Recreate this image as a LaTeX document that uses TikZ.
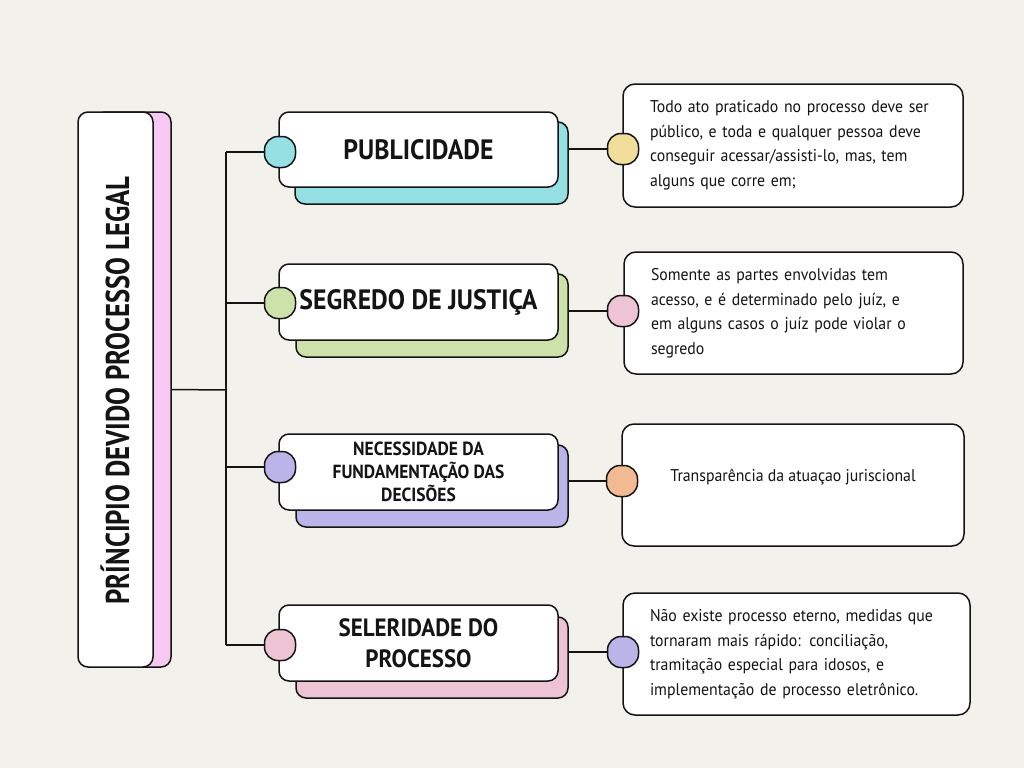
\documentclass[tikz,border=0pt]{standalone}
\usepackage{fontspec}
\setmainfont[FakeStretch=0.93]{PT Sans}
\newfontfamily\headfont[FakeStretch=0.92]{PT Sans}
\newfontfamily\titlefont[FakeStretch=0.81]{PT Sans}
\usetikzlibrary{positioning}
\definecolor{PaperBg}{RGB}{243,241,236}
\definecolor{InkBlack}{RGB}{20,20,20}
\definecolor{TitlePink}{RGB}{247,200,244}
\definecolor{SoftCyan}{RGB}{148,224,227}
\definecolor{SoftGreen}{RGB}{204,226,170}
\definecolor{SoftLilac}{RGB}{187,180,232}
\definecolor{SoftRose}{RGB}{238,196,212}
\definecolor{SoftYellow}{RGB}{242,222,155}
\definecolor{SoftOrange}{RGB}{242,186,146}
\tikzset{
  link/.style={draw=InkBlack,line width=1.5pt},
  cardbox/.style={draw=InkBlack,line width=1.5pt,fill=white,rounded corners=10pt,inner sep=0pt},
  shadebox/.style={draw=InkBlack,line width=1.5pt,rounded corners=10pt,inner sep=0pt},
  knob/.style={draw=InkBlack,line width=1.5pt,rounded corners=13.5pt,minimum size=31pt,inner sep=0pt},
  headtxt/.style={font=\headfont\bfseries\fontsize{28}{30}\selectfont,align=center,text=InkBlack},
  notetxt/.style={font=\fontsize{17}{24.5}\selectfont,align=left,text=InkBlack}
}

\begin{document}
\begin{tikzpicture}[x=1pt,y=-1pt]
\fill[PaperBg] (0,0) rectangle (1024,768);
% titulo
\node[shadebox,fill=TitlePink,minimum width=76pt,minimum height=555pt] (main-back) at (133,389.5) {};
\node[cardbox,minimum width=75pt,minimum height=555pt] (main) at (115.5,389.5) {};
\node[rotate=90,headtxt,font=\titlefont\bfseries\fontsize{33}{33}\selectfont] (title) at (115,390.5) {PRÍNCIPIO DEVIDO PROCESSO LEGAL};
\coordinate (trunk) at (226,390);
% principios
\node[shadebox,fill=SoftCyan,minimum width=273pt,minimum height=82pt] (pub-back) at (431.5,163) {};
\node[cardbox,headtxt,minimum width=279pt,minimum height=75pt] (pub) at (418.5,149.5) {PUBLICIDADE};
\node[knob,fill=SoftCyan] (pub-knob) at (280,152) {};
\node[shadebox,fill=SoftGreen,minimum width=272pt,minimum height=83pt] (seg-back) at (432,315.5) {};
\node[cardbox,headtxt,minimum width=279pt,minimum height=76pt] (seg) at (418.5,302) {SEGREDO DE JUSTIÇA};
\node[knob,fill=SoftGreen] (seg-knob) at (280,303) {};
\node[shadebox,fill=SoftLilac,minimum width=272pt,minimum height=82pt] (nec-back) at (432,486) {};
\node[cardbox,headtxt,font=\headfont\bfseries\fontsize{19}{23}\selectfont,minimum width=279pt,minimum height=76pt] (nec) at (418.5,472) {NECESSIDADE DA\\FUNDAMENTAÇÃO DAS\\DECISÕES};
\node[knob,fill=SoftLilac] (nec-knob) at (280,467) {};
\node[shadebox,fill=SoftRose,minimum width=272pt,minimum height=81pt] (sel-back) at (432,657.5) {};
\node[cardbox,headtxt,font=\headfont\bfseries\fontsize{25}{31}\selectfont,minimum width=279pt,minimum height=76pt] (sel) at (418.5,643) {SELERIDADE DO\\PROCESSO};
\node[knob,fill=SoftRose] (sel-knob) at (280,645) {};
% notas
\node[cardbox,notetxt,rounded corners=12pt,minimum width=340pt,minimum height=123pt,text width=286pt] (pub-note) at (793,145.5) {Todo ato praticado no processo deve ser\\público, e toda e qualquer pessoa deve\\conseguir acessar/assisti-lo, mas, tem\\alguns que corre em;};
\node[knob,fill=SoftYellow] (pub-dot) at (623,149) {};
\node[cardbox,notetxt,rounded corners=12pt,minimum width=339pt,minimum height=122pt,text width=285pt] (seg-note) at (793.5,313) {Somente as partes envolvidas tem\\acesso, e é determinado pelo juíz, e\\em alguns casos o juíz pode violar o\\segredo};
\node[knob,fill=SoftRose] (seg-dot) at (623,311) {};
\node[cardbox,rounded corners=12pt,minimum width=342pt,minimum height=122pt] (nec-note) at (793,485) {};
\node[notetxt] (nec-text) at (793,477) {Transparência da atuaçao juriscional};
\node[knob,fill=SoftOrange] (nec-dot) at (622,481) {};
\node[cardbox,notetxt,rounded corners=12pt,minimum width=347pt,minimum height=122pt,text width=293pt] (sel-note) at (796.5,654) {Não existe processo eterno, medidas que\\tornaram mais rápido: conciliação,\\tramitação especial para idosos, e\\implementação de processo eletrônico.};
\node[knob,fill=SoftLilac] (sel-dot) at (623,652) {};
% ligacoes
\draw[link] (main-back.east) -- (trunk);
\draw[link] (trunk |- pub-knob) -- (trunk |- sel-knob);
\foreach \k in {pub,seg,nec,sel}{
  \draw[link] (trunk |- \k-knob) -- (\k-knob.west);
  \draw[link] (\k-back.east |- \k-dot) -- (\k-dot.west);
}
\end{tikzpicture}
\end{document}
